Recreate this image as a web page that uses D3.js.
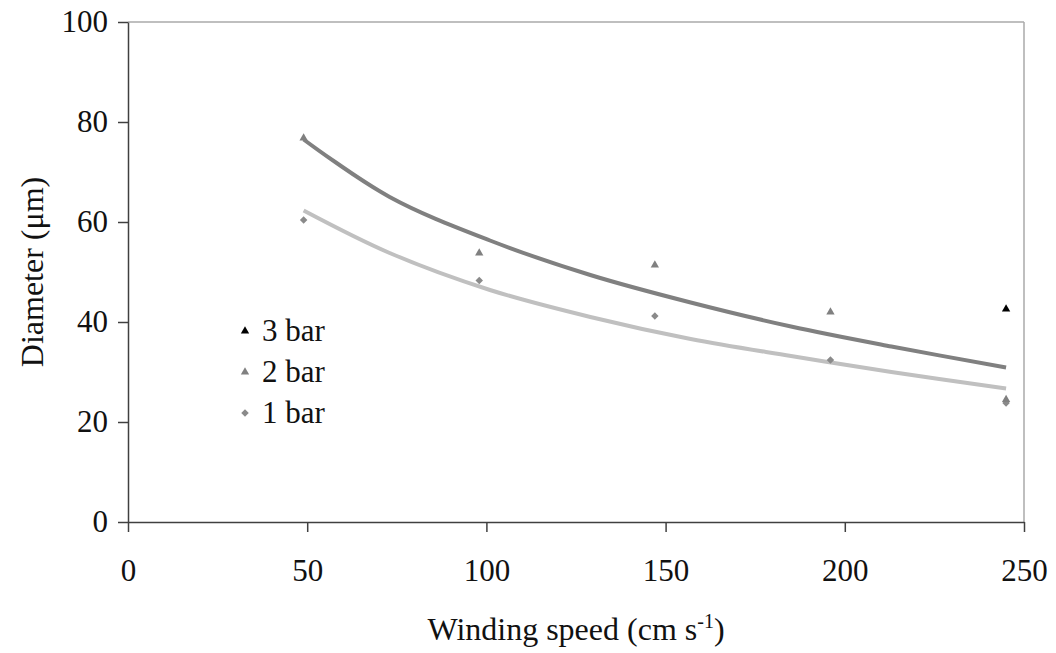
<html>
<head>
<meta charset="utf-8">
<script src="https://d3js.org/d3.v7.min.js"></script>
<style>
  body { margin: 0; background: #fff; }
  .axis .domain, .axis line { stroke: #404040; stroke-width: 1.5; }
</style>
</head>
<body>
<svg id="chart" width="1056" height="653" font-family="Liberation Serif"></svg>
<script>
// measured points
const speeds = [49, 98, 147, 196, 245];
const speeds3 = [245];
const diam3 = [42.6];
const diam2 = [76.8, 53.8, 51.4, 42.0, 24.5];
const diam1 = [60.4, 48.3, 41.2, 32.4, 23.8];

// trend lines
const trendX = [49, 73, 101, 129, 157, 185, 213, 245];
const trend2 = [76.5, 65.0, 56.3, 49.4, 43.9, 39.1, 35.1, 30.9];
const trend1 = [62.3, 53.8, 46.4, 41.0, 36.6, 33.2, 30.0, 26.7];

const xTicks = [0, 50, 100, 150, 200, 250];
const yTicks = [0, 20, 40, 60, 80, 100];
const legendLabels = ["3 bar", "2 bar", "1 bar"];

const font = "Liberation Serif";
const svg = d3.select("#chart");
const plotLeft = 128, plotRight = 1024, plotTop = 22, plotBottom = 522;

const xScale = d3.scaleLinear().domain([0, 250]).range([plotLeft, plotRight]);
const yScale = d3.scaleLinear().domain([0, 100]).range([plotBottom, plotTop]);

// top + right frame lines
svg.append("line").attr("x1", plotLeft).attr("x2", plotRight).attr("y1", plotTop).attr("y2", plotTop)
   .attr("stroke", "#aaa").attr("stroke-width", 1.5);
svg.append("line").attr("x1", plotRight).attr("x2", plotRight).attr("y1", plotTop).attr("y2", plotBottom)
   .attr("stroke", "#aaa").attr("stroke-width", 1.5);

svg.append("g").attr("class", "axis")
   .attr("transform", `translate(0,${plotBottom})`)
   .call(d3.axisBottom(xScale).tickValues(xTicks).tickSize(10).tickPadding(27).tickSizeOuter(0))
   .attr("font-family", font).attr("font-size", 31);

svg.append("g").attr("class", "axis")
   .attr("transform", `translate(${plotLeft},0)`)
   .call(d3.axisLeft(yScale).tickValues(yTicks).tickSize(10).tickPadding(10).tickSizeOuter(0))
   .attr("font-family", font).attr("font-size", 31);

svg.selectAll(".axis text").attr("fill", "#111");

// axis titles
svg.append("text").attr("x", (plotLeft + plotRight) / 2).attr("y", 640)
   .attr("text-anchor", "middle").attr("font-family", font).attr("font-size", 32).attr("fill", "#111")
   .html('Winding speed (cm s<tspan dy="-12" font-size="20">-1</tspan><tspan dy="12">)</tspan>');

svg.append("text").attr("transform", `translate(43,${(plotTop + plotBottom) / 2}) rotate(-90)`)
   .attr("text-anchor", "middle").attr("font-family", font).attr("font-size", 32).attr("fill", "#111")
   .text("Diameter (μm)");

// trend lines
const lineGen = d3.line()
   .x((d, i) => xScale(trendX[i]))
   .y(d => yScale(d))
   .curve(d3.curveCatmullRom.alpha(0.5));

svg.append("path").attr("d", lineGen(trend1))
   .attr("fill", "none").attr("stroke", "#c0c0c0").attr("stroke-width", 4);
svg.append("path").attr("d", lineGen(trend2))
   .attr("fill", "none").attr("stroke", "#808080").attr("stroke-width", 4);

// markers
const tri = d3.symbol().type(d3.symbolTriangle).size(30);
const dia = d3.symbol().type(d3.symbolSquare).size(28);

svg.selectAll(".m1").data(diam1).join("path").attr("class", "m1")
   .attr("d", dia)
   .attr("transform", (d, i) => `translate(${xScale(speeds[i])},${yScale(d)}) rotate(45)`)
   .attr("fill", "#8a8a8a");

svg.selectAll(".m2").data(diam2).join("path").attr("class", "m2")
   .attr("d", tri)
   .attr("transform", (d, i) => `translate(${xScale(speeds[i])},${yScale(d)})`)
   .attr("fill", "#808080");

svg.selectAll(".m3").data(diam3).join("path").attr("class", "m3")
   .attr("d", tri)
   .attr("transform", (d, i) => `translate(${xScale(speeds3[i])},${yScale(d)})`)
   .attr("fill", "#000");

// legend
const legendShapes = [tri, tri, dia];
const legendColors = ["#000", "#808080", "#8a8a8a"];
const leg = svg.selectAll(".leg").data(legendLabels).join("g").attr("class", "leg")
   .attr("transform", (d, i) => `translate(245,${331 + i * 41})`);
leg.append("path")
   .attr("d", (d, i) => legendShapes[i]())
   .attr("transform", (d, i) => i == 2 ? "rotate(45)" : null)
   .attr("fill", (d, i) => legendColors[i]);
leg.append("text").attr("x", 17).attr("y", 10)
   .attr("font-family", font).attr("font-size", 31).attr("fill", "#111")
   .text(d => d);
</script>
</body>
</html>
